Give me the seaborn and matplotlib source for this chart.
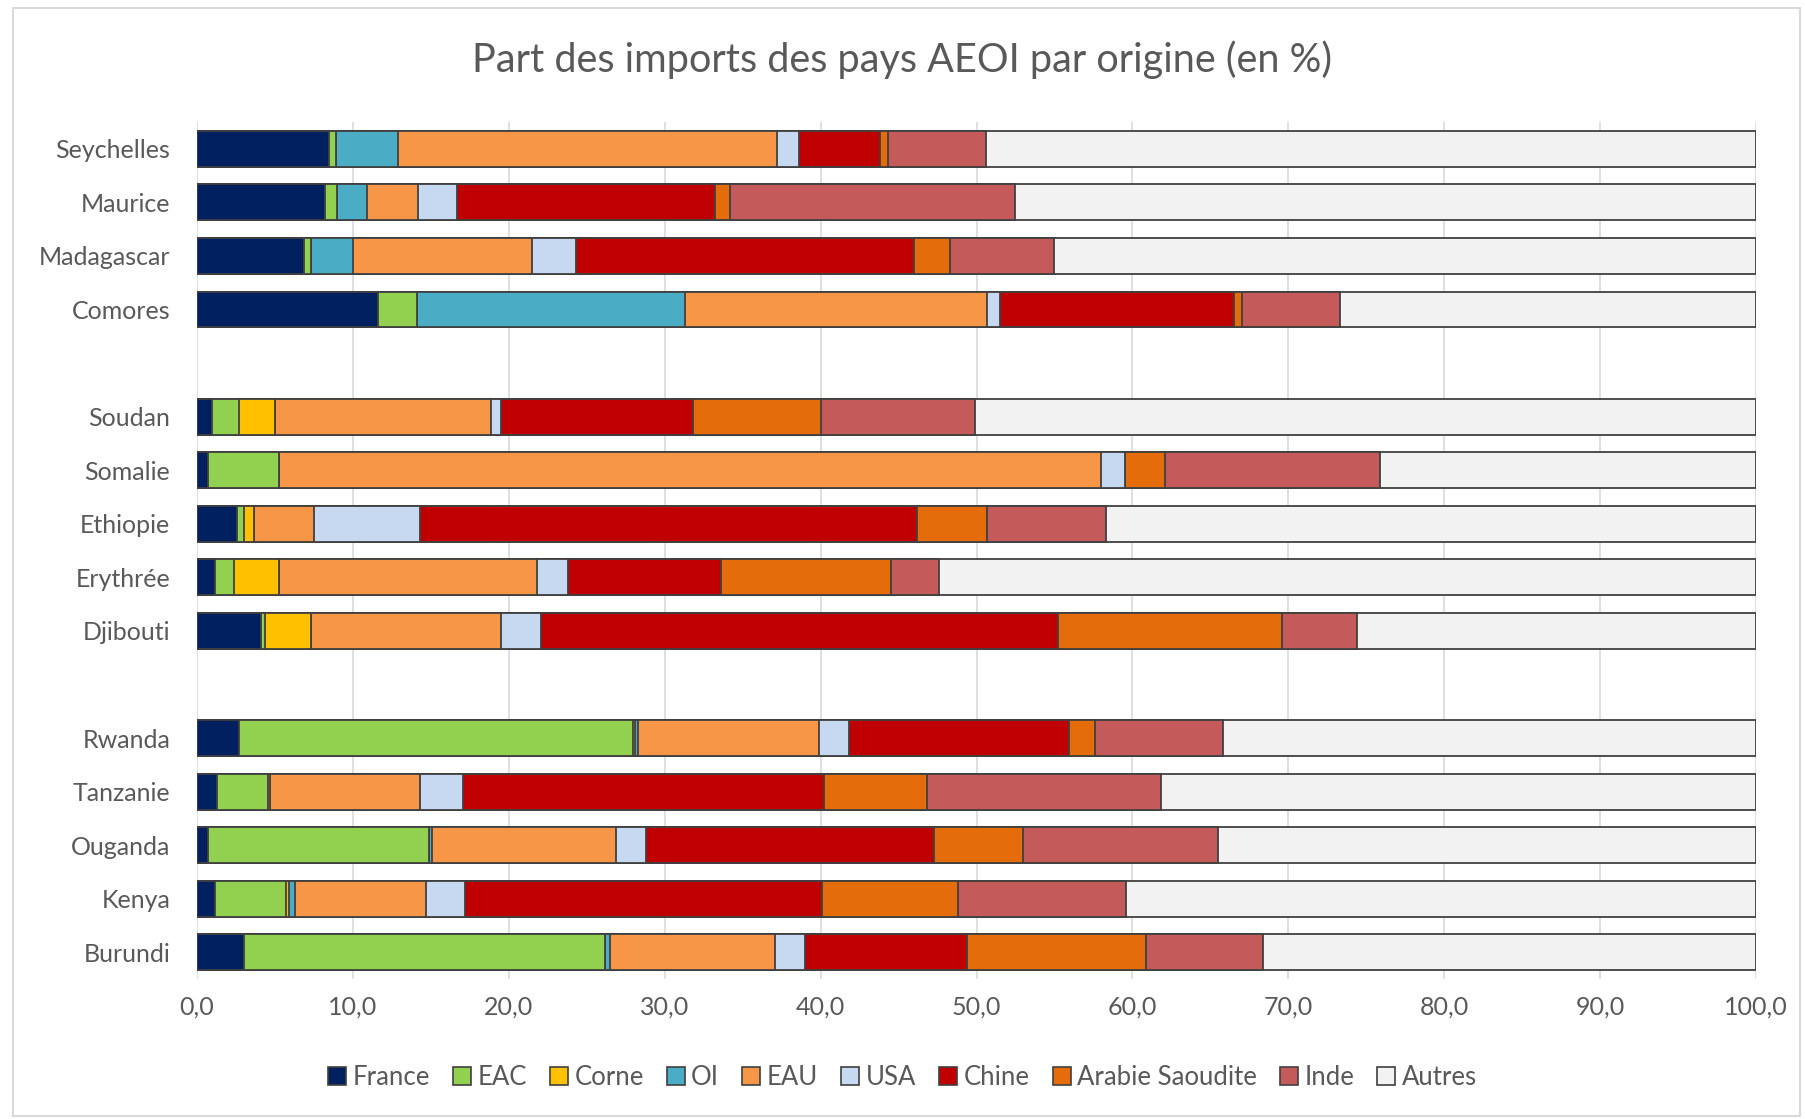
import numpy as np
import pandas as pd
import matplotlib
matplotlib.use("Agg")
import matplotlib.pyplot as plt
import seaborn as sns
from matplotlib.patches import Rectangle, Patch

# --- Data (parts en %) ---
countries = ["Seychelles", "Maurice", "Madagascar", "Comores",
             "Soudan", "Somalie", "Ethiopie", "Erythrée", "Djibouti",
             "Rwanda", "Tanzanie", "Ouganda", "Kenya", "Burundi"]

france = [8.5, 8.2, 6.9, 11.6, 1.0, 0.7, 2.6, 1.2, 4.1, 2.7, 1.3, 0.7, 1.2, 3.0]
eac = [0.4, 0.8, 0.4, 2.5, 1.7, 4.6, 0.4, 1.2, 0.3, 25.3, 3.3, 14.2, 4.5, 23.2]
corne = [0.0, 0.0, 0.0, 0.0, 2.3, 0.0, 0.7, 2.9, 2.9, 0.1, 0.1, 0.0, 0.2, 0.0]
oi = [4.0, 1.9, 2.7, 17.2, 0.0, 0.0, 0.0, 0.0, 0.0, 0.2, 0.0, 0.2, 0.4, 0.3]
eau = [24.3, 3.3, 11.5, 19.4, 13.9, 52.7, 3.8, 16.5, 12.2, 11.6, 9.6, 11.8, 8.4, 10.6]
usa = [1.4, 2.5, 2.8, 0.8, 0.6, 1.5, 6.8, 2.0, 2.6, 1.9, 2.8, 1.9, 2.5, 1.9]
chine = [5.2, 16.5, 21.7, 15.0, 12.3, 0.0, 31.9, 9.8, 33.1, 14.1, 23.1, 18.5, 22.9, 10.4]
arabie = [0.5, 1.0, 2.3, 0.5, 8.2, 2.6, 4.5, 10.9, 14.4, 1.7, 6.6, 5.7, 8.7, 11.5]
inde = [6.3, 18.3, 6.7, 6.3, 9.9, 13.8, 7.6, 3.1, 4.8, 8.2, 15.0, 12.5, 10.8, 7.5]

origins = ["France", "EAC", "Corne", "OI", "EAU", "USA", "Chine",
           "Arabie Saoudite", "Inde", "Autres"]
colors = ["#002060", "#92D050", "#FFC000", "#4BACC6", "#F79646",
          "#C6D9F1", "#C00000", "#E46C0A", "#C55A5A", "#F2F2F2"]

# ordre d'affichage avec deux lignes vides entre les groupes
order = countries[:4] + [" "] + countries[4:9] + ["  "] + countries[9:]

df = pd.DataFrame({"pays": countries, "France": france, "EAC": eac,
                   "Corne": corne, "OI": oi, "EAU": eau, "USA": usa,
                   "Chine": chine, "Arabie Saoudite": arabie, "Inde": inde})
df["Autres"] = 100 - df[origins[:-1]].sum(axis=1)

cum = df[origins].cumsum(axis=1)

plt.rcParams["font.family"] = ["Lato", "DejaVu Sans"]

fig = plt.figure(figsize=(18.05, 11.19), dpi=100)
ax = fig.add_axes([0.109, 0.125, 0.864, 0.766])

edge = "#404040"
# barres cumulées superposées, de la plus longue à la plus courte
for name, col in reversed(list(zip(origins, colors))):
    sns.barplot(x=cum[name], y=df["pays"], order=order, orient="h",
                color=col, width=0.67, edgecolor=edge, linewidth=1.3,
                saturation=1, ax=ax, zorder=3)

ax.set_xlim(0, 100)
ax.set_xticks(np.arange(0, 101, 10))
ax.set_xticklabels([f"{v:.1f}".replace(".", ",") for v in np.arange(0, 101, 10)])
ax.grid(axis="x", color="#D9D9D9", linewidth=1.2, zorder=0)
ax.set_axisbelow(True)
for s in ax.spines.values():
    s.set_visible(False)
ax.tick_params(axis="y", length=0, labelsize=18, labelcolor="#595959", pad=19)
ax.tick_params(axis="x", length=0, labelsize=18, labelcolor="#595959", pad=12)
ax.set_xlabel("")
ax.set_ylabel("")

fig.suptitle("Part des imports des pays AEOI par origine (en %)", y=0.964,
             fontsize=28.5, color="#595959")

handles = [Patch(facecolor=c, edgecolor=edge, linewidth=1.2) for c in colors]
fig.legend(handles, origins, loc="center", bbox_to_anchor=(0.5, 0.037), ncol=10,
           frameon=False, fontsize=18.5, handlelength=0.7, handleheight=0.7,
           handletextpad=0.25, columnspacing=0.9, labelcolor="#595959")

fig.patches.append(Rectangle((0.007, 0.003), 0.99, 0.99, transform=fig.transFigure,
                             fill=False, edgecolor="#D9D9D9", linewidth=1.5))

fig.savefig("out.png", dpi=100)
